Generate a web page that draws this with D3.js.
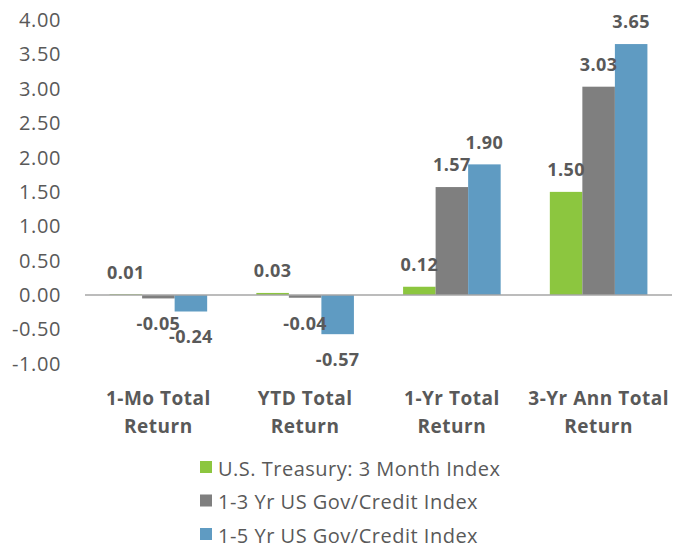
<!DOCTYPE html>
<html><head><meta charset="utf-8">
<script src="https://cdn.jsdelivr.net/npm/d3@7"></script>
<style>body{margin:0;background:#fff;} svg{display:block;}</style>
</head><body>
<svg id="c" width="673" height="544"></svg>
<script>
const categories = [["1-Mo Total","Return"],["YTD Total","Return"],["1-Yr Total","Return"],["3-Yr Ann Total","Return"]];
const seriesNames = ["U.S. Treasury: 3 Month Index","1-3 Yr US Gov/Credit Index","1-5 Yr US Gov/Credit Index"];
const treasury3M = [0.01, 0.03, 0.12, 1.50];
const govCredit13 = [-0.05, -0.04, 1.57, 3.03];
const govCredit15 = [-0.24, -0.57, 1.90, 3.65];
const yTicks = [-1, -0.5, 0, 0.5, 1, 1.5, 2, 2.5, 3, 3.5, 4];
const colors = ["#8cc63f", "#7f7f7f", "#5f9bc2"];
const series = [treasury3M, govCredit13, govCredit15];

const svg = d3.select("#c");
const font = "Open Sans, sans-serif";
const textColor = "#595959";
const pL = 85, pR = 672, pT = 20, pB = 363.75;
const fmt = d => d3.format(".2f")(d).replace("\u2212", "-");

const x0 = d3.scaleBand().domain(d3.range(categories.length)).range([pL, pR]).paddingInner(0.335).paddingOuter(0.1675);
const x1 = d3.scaleBand().domain(d3.range(series.length)).range([0, x0.bandwidth()]);
const y = d3.scaleLinear().domain([-1, 4]).range([pB, pT]);

// y tick labels
svg.append("g").selectAll("text").data(yTicks).join("text")
  .attr("x", 61).attr("y", d => y(d)).attr("dy", "0.35em")
  .attr("text-anchor", "end").attr("font-family", font).attr("font-size", 20)
  .attr("letter-spacing", 0.6)
  .attr("fill", textColor).text(fmt);

// bars
series.forEach((vals, si) => {
  svg.append("g").selectAll("rect").data(vals).join("rect")
    .attr("x", (d, i) => x0(i) + x1(si))
    .attr("width", x1.bandwidth())
    .attr("y", d => Math.min(y(d), y(0)))
    .attr("height", d => Math.abs(y(d) - y(0)))
    .attr("fill", colors[si]);
});

// zero line
svg.append("line").attr("x1", pL).attr("x2", pR).attr("y1", y(0)).attr("y2", y(0))
  .attr("stroke", "#a6a6a6").attr("stroke-width", 1.5);

// data labels
series.forEach((vals, si) => {
  svg.append("g").selectAll("text").data(vals).join("text")
    .attr("x", (d, i) => x0(i) + x1(si) + x1.bandwidth() / 2)
    .attr("y", d => d >= 0 ? y(d) - 22 : y(d) + 25.5)
    .attr("dy", "0.35em")
    .attr("text-anchor", "middle").attr("font-family", font).attr("font-size", 18).attr("font-weight", "bold")
    .attr("letter-spacing", 0.4)
    .attr("fill", textColor).text(fmt);
});

// category labels
const cat = svg.append("g").selectAll("text").data(categories).join("text")
  .attr("text-anchor", "middle").attr("font-family", font).attr("font-size", 19).attr("font-weight", "bold")
  .attr("letter-spacing", 0.5)
  .attr("fill", textColor);
cat.selectAll("tspan").data((d, i) => d.map(t => ({t, i}))).join("tspan")
  .attr("x", d => x0(d.i) + x0.bandwidth() / 2)
  .attr("y", (d, j) => 404.5 + j * 28)
  .text(d => d.t);

// legend
const lg = svg.append("g").selectAll("g").data(seriesNames).join("g")
  .attr("transform", (d, i) => `translate(200, ${467 + i * 33.5})`);
lg.append("rect").attr("x", 0).attr("y", -6).attr("width", 12).attr("height", 12).attr("fill", (d, i) => colors[i]);
lg.append("text").attr("x", 18).attr("y", 1.5).attr("dy", "0.35em")
  .attr("font-family", font).attr("font-size", 20).attr("letter-spacing", 0.5)
  .attr("fill", textColor).text(d => d);
</script>
</body></html>
